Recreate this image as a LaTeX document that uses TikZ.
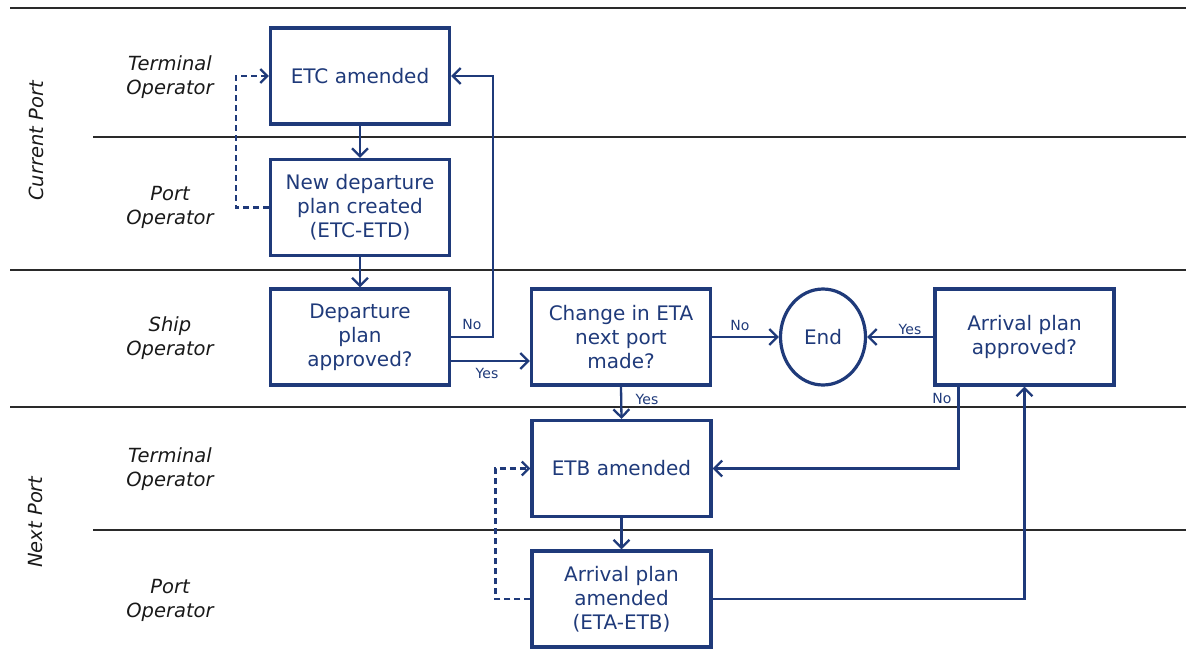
\documentclass[tikz,border=0pt]{standalone}
\usepackage{fontspec}
\setmainfont{DejaVu Sans}
\usetikzlibrary{arrows.meta,shapes.geometric}
\definecolor{navy}{HTML}{1F3A7A}
\definecolor{lanegray}{HTML}{2A2A2A}
\tikzset{
  box/.style={draw=navy,line width=3.2pt,text=navy,minimum width=179pt,minimum height=96pt,
    inner sep=0pt,align=center,font=\fontsize{20}{24}\selectfont},
  endbox/.style={draw=navy,line width=3.2pt,text=navy,ellipse,minimum width=85pt,minimum height=96pt,
    inner sep=0pt,font=\fontsize{20}{24}\selectfont},
  flow/.style={draw=navy,line width=2.3pt,-{Straight Barb[length=8pt,width=16pt]}},
  dflow/.style={draw=navy,line width=2.3pt,dash pattern=on 6pt off 4pt,-{Straight Barb[length=7pt,width=14pt]}},
  lane/.style={draw=lanegray,line width=1.6pt},
  lanelabel/.style={text=black!90,align=center,font=\itshape\fontsize{19.5}{24}\selectfont},
  portlabel/.style={text=black!90,rotate=90,font=\itshape\fontsize{19.5}{24}\selectfont},
  yn/.style={text=navy,inner sep=0pt,font=\fontsize{14}{16}\selectfont}
}
\begin{document}
\begin{tikzpicture}[x=1pt,y=-1pt]
\useasboundingbox (0,0) rectangle (1186,662);
% lanes
\draw[lane,line width=2.2pt] (10,8) -- (1186,8);
\draw[lane] (93,137) -- (1186,137);
\draw[lane] (10,270) -- (1186,270);
\draw[lane] (10,407) -- (1186,407);
\draw[lane] (93,530) -- (1186,530);
% lane labels
\node[portlabel] (cp) at (36,141) {Current Port};
\node[portlabel] (np) at (36,522) {Next Port};
\node[lanelabel] (l1) at (170,77) {Terminal\\Operator};
\node[lanelabel] (l2) at (170,207) {Port\\Operator};
\node[lanelabel] (l3) at (170,338) {Ship\\Operator};
\node[lanelabel] (l4) at (170,469) {Terminal\\Operator};
\node[lanelabel] (l5) at (170,600) {Port\\Operator};
% boxes
\node[box] (etc) at (360,76) {ETC amended};
\node[box] (ndp) at (360,207.5) {New departure\\plan created\\(ETC-ETD)};
\node[box] (dpa) at (360,337) {Departure\\plan\\approved?};
\node[box] (chg) at (621,337) {Change in ETA\\next port\\made?};
\node[endbox] (endn) at (823,337) {End};
\node[box] (apa) at (1024.5,337) {Arrival plan\\approved?};
\node[box] (etb) at (621.5,468.5) {ETB amended};
\node[box] (aam) at (621.5,599) {Arrival plan\\amended\\(ETA-ETB)};
% connectors
\coordinate (nx) at (493,0);
\draw[flow] (etc.south) -- (ndp.north);
\draw[flow] (ndp.south) -- (dpa.north);
\draw[flow] (dpa.east) -- (dpa.east -| nx) -- (etc.east -| nx) -- (etc.east);
\draw[flow] ([yshift=-24pt]dpa.east) -- ([yshift=-24pt]dpa.east -| chg.west);
\draw[flow] (chg.east) -- (endn.west);
\draw[flow] (apa.west) -- (endn.east);
\draw[flow] (chg.south) -- (etb.north);
\draw[flow] ([xshift=-66pt]apa.south) |- (etb.east);
\draw[flow] (etb.south) -- (aam.north);
\draw[flow] (aam.east) -| (apa.south);
\draw[dflow] (ndp.west) -- ++(-33,0) |- (etc.west);
\draw[dflow] (aam.west) -- ++(-35,0) |- (etb.west);
% yes/no labels
\node[yn] (n1) at (472,324) {No};
\node[yn] (y1) at (487,373) {Yes};
\node[yn] (n2) at (740,325) {No};
\node[yn] (y2) at (910,329) {Yes};
\node[yn] (y3) at (647,399) {Yes};
\node[yn] (n3) at (942,398) {No};
\end{tikzpicture}
\end{document}
